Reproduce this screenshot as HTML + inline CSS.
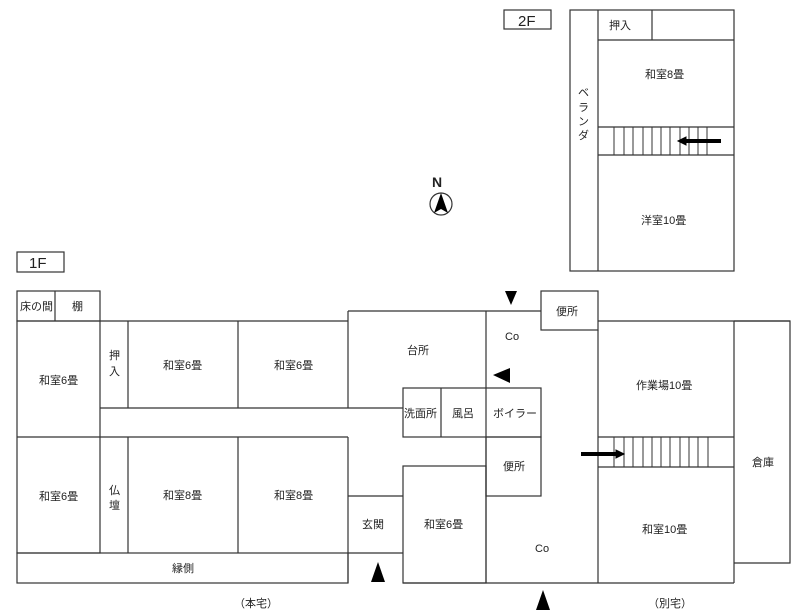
<!DOCTYPE html>
<html><head><meta charset="utf-8"><style>
html,body{margin:0;padding:0;background:#fff;}
svg{display:block;}
text{font-family:"Liberation Sans","Noto Sans CJK JP",sans-serif;font-size:11px;fill:#222;}
</style></head><body>
<svg width="800" height="613" viewBox="0 0 800 613" xmlns="http://www.w3.org/2000/svg">
<g fill="none" stroke="#333" stroke-width="1.2">
<rect x="17" y="252" width="47" height="20"/>
<rect x="504" y="10" width="47" height="19"/>
<rect x="570" y="10" width="164" height="261"/>
<line x1="598" y1="10" x2="598" y2="271"/>
<line x1="598" y1="40" x2="734" y2="40"/>
<line x1="652" y1="10" x2="652" y2="40"/>
<line x1="598" y1="127" x2="734" y2="127"/>
<line x1="598" y1="155" x2="734" y2="155"/>
<rect x="17" y="291" width="83" height="30"/>
<line x1="55" y1="291" x2="55" y2="321"/>
<rect x="17" y="321" width="83" height="232"/>
<line x1="17" y1="437" x2="348" y2="437"/>
<line x1="100" y1="321" x2="348" y2="321"/>
<line x1="100" y1="408" x2="403" y2="408"/>
<line x1="128" y1="321" x2="128" y2="408"/>
<line x1="238" y1="321" x2="238" y2="408"/>
<line x1="128" y1="437" x2="128" y2="553"/>
<line x1="238" y1="437" x2="238" y2="553"/>
<line x1="348" y1="437" x2="348" y2="583"/>
<rect x="17" y="553" width="331" height="30"/>
<line x1="348" y1="311" x2="348" y2="408"/>
<line x1="348" y1="311" x2="541" y2="311"/>
<line x1="348" y1="496" x2="403" y2="496"/>
<line x1="348" y1="553" x2="403" y2="553"/>
<rect x="403" y="388" width="138" height="49"/>
<line x1="441" y1="388" x2="441" y2="437"/>
<line x1="486" y1="311" x2="486" y2="583"/>
<rect x="486" y="437" width="55" height="59"/>
<rect x="403" y="466" width="83" height="117"/>
<line x1="403" y1="583" x2="734" y2="583"/>
<rect x="541" y="291" width="57" height="39"/>
<line x1="598" y1="330" x2="598" y2="583"/>
<line x1="598" y1="321" x2="790" y2="321"/>
<line x1="734" y1="321" x2="734" y2="583"/>
<line x1="598" y1="437" x2="734" y2="437"/>
<line x1="598" y1="467" x2="734" y2="467"/>
<polyline points="734,321 790,321 790,563 734,563"/>
<circle cx="441" cy="204" r="11"/>
</g>
<g stroke="#333" stroke-width="1">
<line x1="614" y1="127" x2="614" y2="155"/><line x1="624" y1="127" x2="624" y2="155"/>
<line x1="633" y1="127" x2="633" y2="155"/><line x1="643" y1="127" x2="643" y2="155"/>
<line x1="652" y1="127" x2="652" y2="155"/><line x1="661" y1="127" x2="661" y2="155"/>
<line x1="670" y1="127" x2="670" y2="155"/><line x1="680" y1="127" x2="680" y2="155"/>
<line x1="689" y1="127" x2="689" y2="155"/><line x1="698" y1="127" x2="698" y2="155"/>
<line x1="707" y1="127" x2="707" y2="155"/>
<line x1="614" y1="437" x2="614" y2="467"/><line x1="624" y1="437" x2="624" y2="467"/>
<line x1="633" y1="437" x2="633" y2="467"/><line x1="643" y1="437" x2="643" y2="467"/>
<line x1="652" y1="437" x2="652" y2="467"/><line x1="661" y1="437" x2="661" y2="467"/>
<line x1="670" y1="437" x2="670" y2="467"/><line x1="680" y1="437" x2="680" y2="467"/>
<line x1="689" y1="437" x2="689" y2="467"/><line x1="698" y1="437" x2="698" y2="467"/>
<line x1="708" y1="437" x2="708" y2="467"/>
</g>
<g fill="#000" stroke="#000">
<line x1="721" y1="141" x2="684" y2="141" stroke-width="4"/>
<polygon points="678,141 686,137 686,145"/>
<line x1="581" y1="454" x2="618" y2="454" stroke-width="4"/>
<polygon points="624,454 616,450 616,458"/>
<polygon points="505,291 517,291 511,305" stroke="none"/>
<polygon points="510,368 510,383 493,375" stroke="none"/>
<polygon points="378,562 371,582 385,582" stroke="none"/>
<polygon points="543,590 536,610 550,610" stroke="none"/>
<polygon points="441,193 434,213 441,209 448,213" stroke="none"/>
</g>
<text x="29" y="268" style="font-size:15px">1F</text>
<text x="518" y="26" style="font-size:15px">2F</text>
<text x="432" y="187" style="font-size:14px;font-weight:bold">N</text>
<text x="609" y="29">押入</text>
<text x="645" y="78">和室8畳</text>
<text x="641" y="224">洋室10畳</text>
<text x="578" y="96">ベ</text><text x="578" y="111">ラ</text><text x="578" y="125">ン</text><text x="578" y="139">ダ</text>
<text x="20" y="310">床の間</text>
<text x="72" y="310">棚</text>
<text x="39" y="384">和室6畳</text>
<text x="109" y="359">押</text><text x="109" y="375">入</text>
<text x="163" y="369">和室6畳</text>
<text x="274" y="369">和室6畳</text>
<text x="39" y="500">和室6畳</text>
<text x="109" y="494">仏</text><text x="109" y="509">壇</text>
<text x="163" y="499">和室8畳</text>
<text x="274" y="499">和室8畳</text>
<text x="172" y="572">縁側</text>
<text x="362" y="528">玄関</text>
<text x="407" y="354">台所</text>
<text x="404" y="417">洗面所</text>
<text x="452" y="417">風呂</text>
<text x="493" y="417">ボイラー</text>
<text x="503" y="470">便所</text>
<text x="424" y="528">和室6畳</text>
<text x="505" y="340">Co</text>
<text x="535" y="552">Co</text>
<text x="556" y="315">便所</text>
<text x="636" y="389">作業場10畳</text>
<text x="642" y="533">和室10畳</text>
<text x="752" y="466">倉庫</text>
<text x="234" y="607">（本宅）</text>
<text x="648" y="607">（別宅）</text>
</svg>
</body></html>
